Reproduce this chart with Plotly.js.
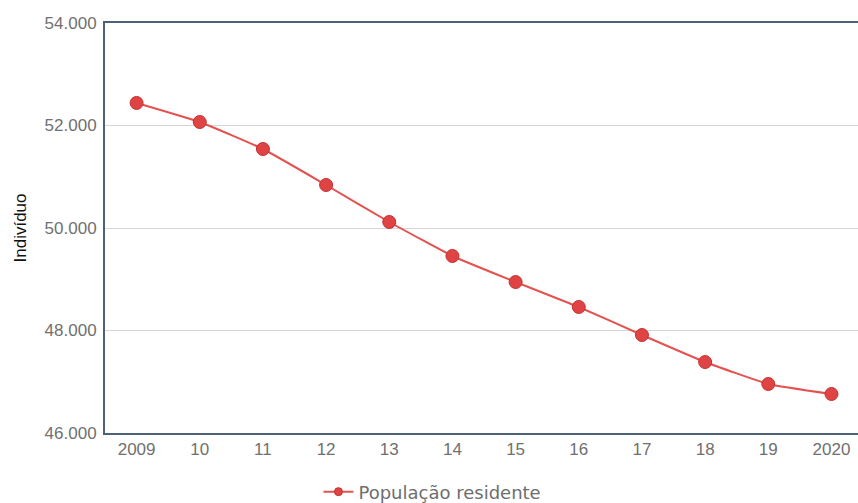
<!DOCTYPE html>
<html>
<head>
<meta charset="utf-8">
<script src="https://cdn.plot.ly/plotly-3.0.1.min.js"></script>
<style>html,body{margin:0;padding:0;background:#fff;}#chart{width:858px;height:503px;}</style>
</head>
<body>
<div id="chart"></div>
<script>
var years = ["2009", "10", "11", "12", "13", "14", "15", "16", "17", "18", "19", "2020"];
var population = [52440, 52068, 51541, 50839, 50117, 49454, 48946, 48459, 47912, 47385, 46956, 46761];
var seriesName = "População residente";
var yTicks = [46000, 48000, 50000, 52000, 54000];

var trace = {
  x: years,
  y: population,
  type: "scatter",
  mode: "lines+markers",
  name: seriesName,
  showlegend: false,
  line: {color: "#e4524f", width: 2, shape: "spline", smoothing: 0.4},
  marker: {color: "#e04343", size: 13, line: {color: "#c43232", width: 1}}
};

// legend proxy (no drawn point), smaller symbol as in the reference legend
var legendTrace = {
  x: [null],
  y: [null],
  type: "scatter",
  mode: "lines+markers",
  name: seriesName,
  showlegend: true,
  line: {color: "#e4524f", width: 2},
  marker: {color: "#e04343", size: 8, line: {color: "#c43232", width: 1}}
};

var layout = {
  width: 858,
  height: 503,
  margin: {l: 105, r: 0, t: 23, b: 70, autoexpand: false},
  paper_bgcolor: "#ffffff",
  plot_bgcolor: "#ffffff",
  separators: ",.",
  font: {family: "Liberation Sans, Arial, sans-serif", color: "#666666"},
  xaxis: {
    type: "category",
    range: [-0.5, 11.42],
    showline: true,
    linecolor: "#4d6178",
    linewidth: 2,
    mirror: true,
    showgrid: false,
    zeroline: false,
    ticks: "",
    tickfont: {size: 17, color: "#707070"},
    fixedrange: true
  },
  yaxis: {
    range: [46000, 54000],
    tickvals: yTicks,
    tickformat: ",d",
    showline: true,
    linecolor: "#4d6178",
    linewidth: 2,
    showgrid: true,
    gridcolor: "#d6d6d6",
    gridwidth: 1,
    zeroline: false,
    ticks: "",
    ticklabelstandoff: 3,
    tickfont: {size: 17, color: "#707070"},
    title: {text: "Indivíduo", font: {size: 17, color: "#111111", family: "Liberation Sans, Arial, sans-serif"}, standoff: 14},
    fixedrange: true
  },
  showlegend: true,
  legend: {
    orientation: "h",
    xref: "container",
    yref: "container",
    x: 0.504,
    xanchor: "center",
    y: 0.022,
    yanchor: "middle",
    font: {size: 18, color: "#6e6e6e", family: "DejaVu Sans, Verdana, sans-serif"},
    itemwidth: 30
  }
};

Plotly.newPlot("chart", [trace, legendTrace], layout, {displayModeBar: false, staticPlot: true});
</script>
</body>
</html>
